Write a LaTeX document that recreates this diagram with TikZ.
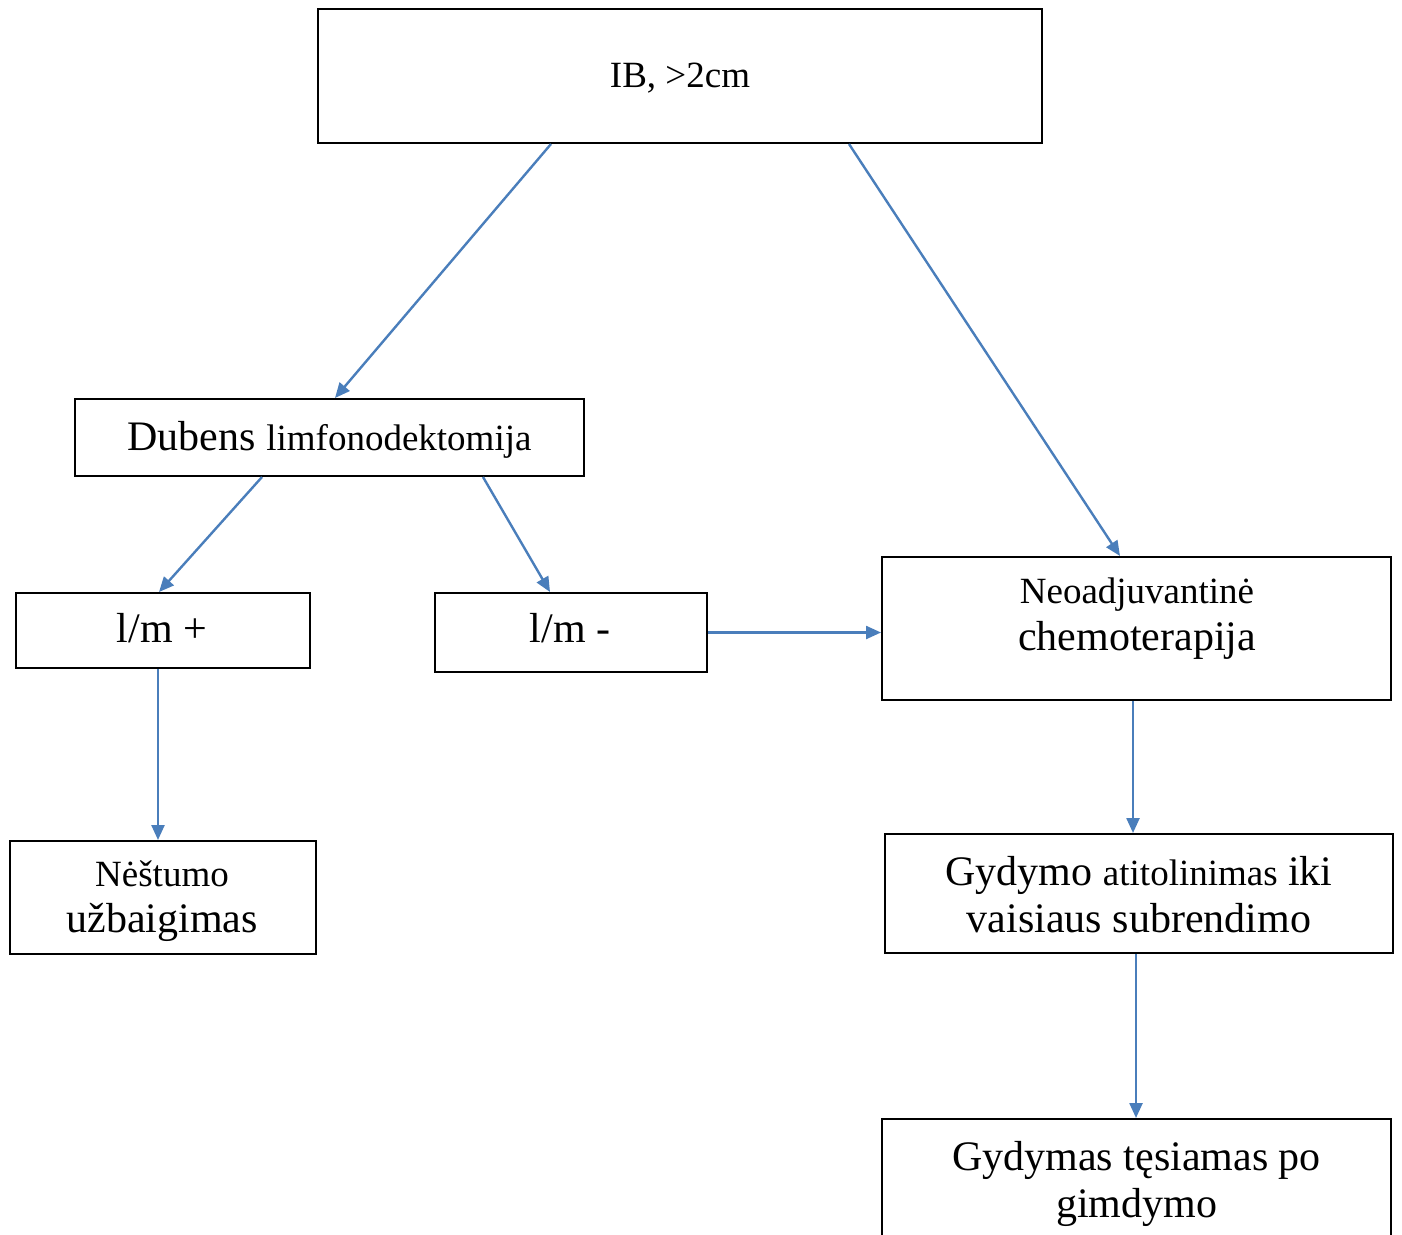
\documentclass[tikz,border=0pt]{standalone}
\usepackage{fontspec}
\setmainfont{Liberation Serif}
\usetikzlibrary{arrows.meta}
\definecolor{arrblue}{RGB}{74,126,187}
\tikzset{
  box/.style={draw=black, line width=2pt, rectangle, inner sep=0pt, fill=none},
  big/.style={font=\fontsize{42}{48}\selectfont, anchor=base, inner sep=0pt},
  arr/.style={draw=arrblue, line width=2.4pt, -{Triangle[length=15pt,width=13pt]}}
}
\newcommand{\sm}{\fontsize{37}{44}\selectfont}
\begin{document}
\begin{tikzpicture}[x=1pt,y=-1pt]
\useasboundingbox (0,0) rectangle (1402,1234);
\clip (0,0) rectangle (1402,1234);
% boxes
\node[box, minimum width=724pt, minimum height=134pt] (ib) at (680,76) {};
\node[box, minimum width=509pt, minimum height=77pt] (dub) at (329.5,437.5) {};
\node[box, minimum width=294pt, minimum height=75pt] (lmp) at (163,630.5) {};
\node[box, minimum width=272pt, minimum height=79pt] (lmm) at (571,632.5) {};
\node[box, minimum width=509pt, minimum height=143pt] (neo) at (1136.5,628.5) {};
\node[box, minimum width=306pt, minimum height=113pt] (nest) at (163,897.5) {};
\node[box, minimum width=508pt, minimum height=119pt] (gyd) at (1139,893.5) {};
\node[box, minimum width=509pt, minimum height=170pt] (tes) at (1136.5,1204) {};
% texts
\node[big] (t1) at (680,87) {\sm IB, >2cm};
\node[big] (t2) at (329.5,450) {Dubens {\sm limfonodektomija}};
\node[big] (t3) at (162,642) {l/m +};
\node[big] (t4) at (570,642) {l/m -};
\node[big] (t5a) at (1137,603) {\sm Neoadjuvantinė};
\node[big] (t5b) at (1137,650) {chemoterapija};
\node[big] (t6a) at (162,886) {\sm Nėštumo};
\node[big] (t6b) at (162,932) {užbaigimas};
\node[big] (t7a) at (1139,885) {Gydymo {\sm atitolinimas} iki};
\node[big] (t7b) at (1139,932) {vaisiaus subrendimo};
\node[big] (t8a) at (1136.5,1170) {Gydymas tęsiamas po};
\node[big] (t8b) at (1136.5,1217) {gimdymo};
% connectors
\draw[arr] ([xshift=234pt]ib.south west) -- ([xshift=261pt]dub.north west);
\draw[arr] ([xshift=532pt]ib.south west) -- ([xshift=239pt]neo.north west);
\draw[arr] ([xshift=188pt]dub.south west) -- ([xshift=144pt]lmp.north west);
\draw[arr] ([xshift=409pt]dub.south west) -- ([xshift=116pt]lmm.north west);
\draw[arr] (lmm.east) -- (lmm.east -| neo.west);
\draw[arr] ([xshift=143pt]lmp.south west) -- ([xshift=149pt]nest.north west);
\draw[arr] ([xshift=252pt]neo.south west) -- ([xshift=249pt]gyd.north west);
\draw[arr] ([xshift=252pt]gyd.south west) -- ([xshift=255pt]tes.north west);
\end{tikzpicture}
\end{document}
